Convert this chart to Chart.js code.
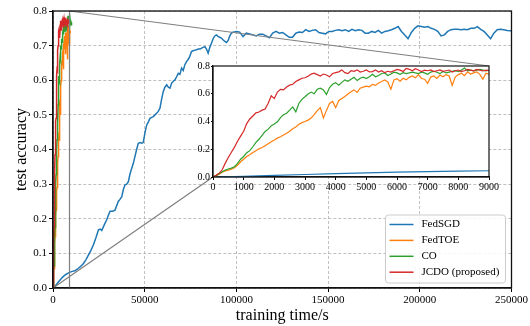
<!DOCTYPE html>
<html>
<head>
<meta charset="utf-8">
<script src="https://cdn.jsdelivr.net/npm/chart.js@4"></script>
<style>
  html, body { margin: 0; padding: 0; background: #fff; }
  #wrap { position: relative; width: 530px; height: 326px; }
  #main { position: absolute; left: 0; top: 0; }
  #inset { position: absolute; left: 185px; top: 58px; }
</style>
</head>
<body>
<div id="wrap">
  <canvas id="main" width="530" height="326"></canvas>
  <canvas id="inset" width="315" height="140"></canvas>
</div>
<script>
// training time (s) at which FedTOE / CO / JCDO were logged
const logTime = [
  0,100,200,300,400,500,600,700,800,900,
  1000,1100,1200,1300,1400,1500,1600,1700,1800,1900,
  2000,2100,2200,2300,2400,2500,2600,2700,2800,2900,
  3000,3100,3200,3300,3400,3500,3600,3700,3800,3900,
  4000,4100,4200,4300,4400,4500,4600,4700,4800,4900,
  5000,5100,5200,5300,5400,5500,5600,5700,5800,5900,
  6000,6100,6200,6300,6400,6500,6600,6700,6800,6900,
  7000,7100,7200,7300,7400,7500,7600,7700,7800,7900,
  8000,8100,8200,8300,8400,8500,8600,8700,8800,8900,
  9000,9100,9200,9300,9400,9500,9600,9700,9800,9900,
  10000,10100,10200
];

const jcdo = [
  0,0.012,0.028,0.052,0.10,0.14,0.178,0.215,0.258,0.295,
  0.33,0.385,0.418,0.44,0.462,0.468,0.482,0.49,0.532,0.585,
  0.565,0.612,0.632,0.628,0.648,0.662,0.668,0.688,0.70,0.712,
  0.715,0.726,0.742,0.748,0.738,0.728,0.742,0.735,0.722,0.746,
  0.752,0.758,0.772,0.752,0.745,0.766,0.762,0.772,0.756,0.762,
  0.771,0.757,0.76,0.772,0.756,0.766,0.752,0.762,0.756,0.766,
  0.776,0.77,0.76,0.782,0.776,0.765,0.78,0.771,0.76,0.77,
  0.766,0.772,0.76,0.766,0.772,0.761,0.766,0.771,0.756,0.766,
  0.771,0.76,0.766,0.776,0.77,0.765,0.775,0.77,0.764,0.77,
  0.766
];

const co = [
  0,0.01,0.024,0.038,0.05,0.058,0.064,0.074,0.098,0.128,
  0.148,0.175,0.19,0.218,0.25,0.272,0.30,0.328,0.345,0.37,
  0.382,0.398,0.428,0.448,0.46,0.482,0.505,0.47,0.53,0.56,
  0.578,0.598,0.612,0.60,0.632,0.64,0.628,0.595,0.645,0.668,
  0.68,0.662,0.682,0.70,0.69,0.705,0.718,0.695,0.712,0.72,
  0.71,0.722,0.74,0.722,0.732,0.746,0.75,0.732,0.742,0.755,
  0.75,0.74,0.752,0.745,0.75,0.756,0.75,0.745,0.756,0.75,
  0.74,0.756,0.762,0.755,0.745,0.76,0.75,0.756,0.762,0.766,
  0.76,0.77,0.786,0.765,0.77,0.765,0.77,0.775,0.77,0.765,
  0.77,0.772,0.765,0.775,0.768,0.76,0.77,0.762,0.772,0.765,
  0.768,0.758,0.765
];

const fedTOE = [
  0,0.008,0.02,0.034,0.044,0.05,0.056,0.066,0.085,0.11,
  0.128,0.148,0.16,0.176,0.19,0.203,0.212,0.226,0.24,0.254,
  0.266,0.28,0.29,0.302,0.316,0.33,0.348,0.36,0.38,0.392,
  0.40,0.41,0.425,0.45,0.478,0.50,0.425,0.48,0.53,0.545,
  0.50,0.55,0.565,0.58,0.598,0.615,0.628,0.61,0.64,0.648,
  0.655,0.65,0.668,0.66,0.678,0.688,0.70,0.685,0.632,0.70,
  0.708,0.69,0.712,0.70,0.718,0.728,0.715,0.738,0.71,0.705,
  0.675,0.72,0.728,0.71,0.735,0.722,0.738,0.728,0.66,0.72,
  0.738,0.748,0.73,0.758,0.742,0.75,0.758,0.74,0.705,0.748,
  0.742,0.735,0.745,0.738,0.742
];

// FedSGD, logged on its own time grid
const sgdTime = [
  0,1000,2000,3000,4000,5000,6000,7000,8000,9000,
  10500,12000,13900,15200,16600,18000,19300,20600,22000,23400,
  24800,25800,26600,28000,29300,30200,31100,32500,33800,35600,
  36500,37500,38400,39300,40200,41100,42000,42900,43800,44700,
  45600,46500,47500,48400,49200,50200,51100,52000,52900,53800,
  54700,55600,56500,57400,58300,59200,60100,61000,62000,62900,
  63800,64700,65600,66500,67400,68300,69200,70100,71000,71900,
  72800,73700,74600,75500,76400,77400,78300,79200,80100,81000,
  81900,82800,83700,84600,85500,86400,87300,88200,89100,90000,
  90900,91800,92700,93700,94600,95500,96400,97300,98200,
  100000,101800,103600,105400,107200,109000,110800,112600,114400,116200,
  118000,119800,121600,123400,125200,127000,128800,130600,132400,134200,
  136000,137800,139600,141400,143200,145000,146800,148600,150400,152200,
  154000,155800,157600,159400,161200,163000,164800,166600,168400,170200,
  172000,173800,175600,177400,179200,181000,182800,184600,186400,188200,
  190000,191800,193600,195400,197200,199000,200800,202600,204400,206200,
  208000,209800,211600,213400,215200,217000,218800,220600,222400,224200,
  226000,227800,229600,231400,233200,235000,236800,238600,240400,242200,
  244000,245800,247600,249400,250000
];

const fedSGD = [
  0,0.005,0.011,0.018,0.024,0.03,0.035,0.039,0.042,0.045,
  0.048,0.05,0.057,0.063,0.071,0.082,0.095,0.108,0.124,0.145,
  0.168,0.17,0.166,0.183,0.197,0.21,0.222,0.222,0.225,0.25,
  0.256,0.264,0.285,0.298,0.30,0.307,0.33,0.345,0.36,0.38,
  0.40,0.418,0.42,0.418,0.42,0.45,0.471,0.48,0.49,0.493,
  0.495,0.50,0.505,0.51,0.519,0.545,0.567,0.58,0.587,0.58,
  0.577,0.592,0.597,0.601,0.61,0.62,0.617,0.635,0.628,0.645,
  0.654,0.66,0.669,0.683,0.685,0.687,0.688,0.69,0.69,0.693,
  0.695,0.697,0.69,0.678,0.695,0.707,0.72,0.728,0.731,0.727,
  0.724,0.722,0.717,0.712,0.709,0.715,0.728,0.736,0.739,
  0.741,0.739,0.726,0.736,0.734,0.731,0.728,0.733,0.733,0.728,
  0.723,0.736,0.741,0.736,0.738,0.731,0.724,0.724,0.736,0.739,
  0.738,0.746,0.741,0.744,0.746,0.738,0.736,0.734,0.741,0.741,
  0.744,0.746,0.743,0.746,0.741,0.747,0.743,0.746,0.744,0.736,
  0.736,0.741,0.738,0.744,0.736,0.741,0.743,0.746,0.750,0.755,
  0.741,0.731,0.720,0.738,0.750,0.757,0.755,0.753,0.755,0.750,
  0.747,0.741,0.728,0.731,0.741,0.746,0.747,0.747,0.746,0.747,
  0.746,0.750,0.750,0.755,0.747,0.741,0.731,0.720,0.736,0.746,
  0.747,0.746,0.744,0.743,0.742
];

const seriesNames = ['FedSGD', 'FedTOE', 'CO', 'JCDO (proposed)'];
const seriesColors = ['#1f77b4', '#ff7f0e', '#2ca02c', '#d62728'];

const xTickStep = 50000;
const yTickStep = 0.1;
const insetXStep = 1000;
const insetYStep = 0.2;

Chart.defaults.font.family = "'Liberation Serif', 'Times New Roman', serif";
Chart.defaults.color = '#000';

function buildSets(width) {
  const pairs = [
    sgdTime.map((t, i) => ({ x: t, y: fedSGD[i] })),
    fedTOE.map((v, i) => ({ x: logTime[i], y: v })),
    co.map((v, i) => ({ x: logTime[i], y: v })),
    jcdo.map((v, i) => ({ x: logTime[i], y: v }))
  ];
  return pairs.map((d, i) => ({
    label: seriesNames[i],
    data: d,
    borderColor: seriesColors[i],
    backgroundColor: seriesColors[i],
    borderWidth: width,
    pointRadius: 0,
    fill: false,
    tension: 0,
    order: 4 - i
  }));
}

// white face + black box for the zoomed axes
const insetFrame = {
  id: 'insetFrame',
  beforeDraw(chart) {
    const a = chart.chartArea, ctx = chart.ctx;
    ctx.save();
    ctx.fillStyle = '#fff';
    ctx.fillRect(a.left, a.top, a.right - a.left, a.bottom - a.top);
    ctx.restore();
  },
  afterDraw(chart) {
    const a = chart.chartArea, ctx = chart.ctx;
    ctx.save();
    ctx.strokeStyle = '#111';
    ctx.lineWidth = 1.2;
    ctx.strokeRect(a.left, a.top, a.right - a.left, a.bottom - a.top);
    ctx.restore();
  }
};

const insetCanvas = document.getElementById('inset');
const insetChart = new Chart(insetCanvas, {
  type: 'line',
  data: { datasets: buildSets(1.2) },
  options: {
    responsive: false,
    animation: false,
    events: [],
    layout: { padding: { left: 0, right: 11, top: 8, bottom: 0 } },
    plugins: { legend: { display: false }, tooltip: { enabled: false } },
    scales: {
      x: {
        type: 'linear', min: 0, max: 9000,
        afterFit: s => { s.height = 21; },
        ticks: { stepSize: insetXStep, font: { size: 10 }, padding: 1, maxRotation: 0, autoSkip: false, callback: v => String(v) },
        grid: { drawOnChartArea: false, tickLength: 3, tickColor: '#000' },
        border: { color: '#111', width: 1.2 }
      },
      y: {
        min: 0, max: 0.8,
        afterFit: s => { s.width = 28; },
        ticks: { stepSize: insetYStep, font: { size: 10 }, padding: 1, callback: v => v.toFixed(1) },
        grid: { drawOnChartArea: false, tickLength: 2, tickColor: '#000' },
        border: { color: '#111', width: 1.2 }
      }
    }
  },
  plugins: [insetFrame]
});

// box, zoom marker, connectors and legend on the main axes
const mainDecor = {
  id: 'mainDecor',
  afterDraw(chart) {
    const a = chart.chartArea, ctx = chart.ctx;
    const xs = chart.scales.x, ys = chart.scales.y;
    ctx.save();

    // zoom marker and connector lines
    const ia = insetChart.chartArea;
    const ox = insetCanvas.offsetLeft, oy = insetCanvas.offsetTop;
    const zx = xs.getPixelForValue(9000);
    ctx.strokeStyle = '#7f7f7f';
    ctx.lineWidth = 1.2;
    ctx.beginPath();
    ctx.moveTo(zx, ys.getPixelForValue(0));
    ctx.lineTo(zx, ys.getPixelForValue(0.8));
    ctx.moveTo(zx, ys.getPixelForValue(0.8));
    ctx.lineTo(ox + ia.right, oy + ia.top);
    ctx.moveTo(xs.getPixelForValue(0), ys.getPixelForValue(0));
    ctx.lineTo(ox + ia.left, oy + ia.bottom);
    ctx.stroke();

    // full frame
    ctx.strokeStyle = '#111';
    ctx.lineWidth = 1.3;
    ctx.strokeRect(a.left, a.top, a.right - a.left, a.bottom - a.top);

    // legend
    const bw = 120, bh = 68;
    const bx = a.right - 6 - bw, by = a.bottom - 5 - bh;
    ctx.fillStyle = 'rgba(255,255,255,0.85)';
    ctx.strokeStyle = '#cccccc';
    ctx.lineWidth = 1;
    ctx.beginPath();
    ctx.roundRect(bx, by, bw, bh, 3);
    ctx.fill();
    ctx.stroke();
    ctx.font = "11px 'Liberation Serif', 'Times New Roman', serif";
    ctx.textBaseline = 'middle';
    ctx.textAlign = 'left';
    seriesNames.forEach((name, i) => {
      const ly = by + 9.5 + i * 15.9;
      ctx.strokeStyle = seriesColors[i];
      ctx.lineWidth = 1.5;
      ctx.beginPath();
      ctx.moveTo(bx + 4, ly);
      ctx.lineTo(bx + 28, ly);
      ctx.stroke();
      ctx.fillStyle = '#000';
      ctx.fillText(name, bx + 36, ly);
    });
    ctx.restore();
  }
};

const mainChart = new Chart(document.getElementById('main'), {
  type: 'line',
  data: { datasets: buildSets(1.5) },
  options: {
    responsive: false,
    animation: false,
    events: [],
    layout: { padding: { left: 0, right: 17, top: 11, bottom: 0 } },
    plugins: { legend: { display: false }, tooltip: { enabled: false } },
    scales: {
      x: {
        type: 'linear', min: 0, max: 250000,
        afterFit: s => { s.height = 38; },
        ticks: { stepSize: xTickStep, font: { size: 11 }, padding: 2, maxRotation: 0, autoSkip: false, callback: v => String(v) },
        grid: { color: '#b0b0b0', lineWidth: 0.8, tickLength: 4, tickColor: '#000', tickWidth: 1 },
        border: { color: '#111', width: 1.3, dash: [3, 2] },
        title: { display: true, text: 'training time/s', font: { size: 16 }, padding: { top: 0, bottom: 1 } }
      },
      y: {
        min: 0, max: 0.8,
        afterFit: s => { s.width = 53; },
        ticks: { stepSize: yTickStep, font: { size: 11 }, padding: 2, callback: v => v.toFixed(1) },
        grid: { color: '#b0b0b0', lineWidth: 0.8, tickLength: 4, tickColor: '#000', tickWidth: 1 },
        border: { color: '#111', width: 1.3, dash: [3, 2] },
        title: { display: true, text: 'test accuracy', font: { size: 16 }, padding: { top: 12, bottom: 0 } }
      }
    }
  },
  plugins: [mainDecor]
});
</script>
</body>
</html>
